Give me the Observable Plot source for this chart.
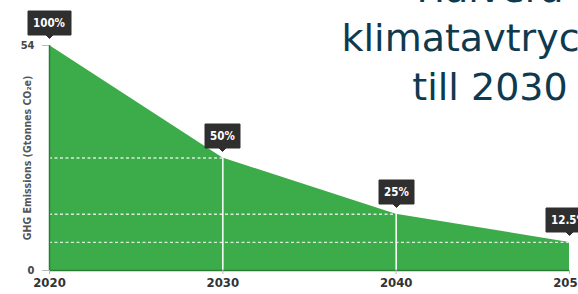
<!DOCTYPE html>
<html><head><meta charset="utf-8">
<script src="https://cdn.jsdelivr.net/npm/d3@7"></script>
<script src="https://cdn.jsdelivr.net/npm/@observablehq/plot@0.6"></script>
<style>
html,body{margin:0;padding:0;overflow:hidden;background:#fff;}
#wrap{position:relative;width:578px;height:294px;overflow:hidden;}
#title{position:absolute;left:290px;width:400px;top:-35px;text-align:center;font-family:"DejaVu Sans",sans-serif;font-size:38px;line-height:49px;color:#0e3a4f;}
g[aria-label="tip"] text, g[aria-label="tip"] tspan{fill:#fff;}
</style></head><body>
<div id="wrap"><div id="chart"></div><div id="title">Halvera<br>klimatavtrycket<br>till 2030</div></div>
<script>
const years = [2020, 2030, 2040, 2050];
const emissions = [54, 27, 13.5, 6.75];
const shares = ["100%", "50%", "25%", "12.5%"];
const yTicks = [0, 54];
const xTicks = [2020, 2030, 2040, 2050];
const yLabel = "GHG Emissions (Gtonnes CO₂e)";

const data = years.map((year, i) => ({year, value: emissions[i], share: shares[i]}));
const inner = data.slice(1);
const font = '"DejaVu Sans Condensed", "Liberation Sans Narrow", sans-serif';

const chart = Plot.plot({
  width: 578, height: 294,
  marginLeft: 49, marginRight: 9, marginTop: 45, marginBottom: 24,
  style: {fontFamily: font, fontWeight: "bold", background: "transparent", overflow: "visible"},
  x: {domain: [2020, 2050]},
  y: {domain: [0, 54]},
  marks: [
    Plot.areaY(data, {x: "year", y: "value", fill: "#3cab4a"}),
    Plot.ruleY(inner, {y: "value", x1: 2020, x2: "year", stroke: "#fff", strokeWidth: 1.3, strokeDasharray: "3,2.5", strokeOpacity: 0.8}),
    Plot.ruleX(inner.slice(0, 2), {x: "year", y1: 0, y2: "value", stroke: "#fff", strokeWidth: 1.5}),
    Plot.ruleX([2020], {y1: 0, y2: 54, stroke: "#2b7d35", strokeWidth: 1.5}),
    Plot.ruleY([0], {x1: 2020, x2: 2050, stroke: "#2b7d35", strokeWidth: 1.5}),
    Plot.axisX({ticks: xTicks, tickFormat: d => String(d), tickSize: 4, tickPadding: 3, fontSize: 13, fill: "#333", stroke: "#bbb", label: null}),
    Plot.axisY({ticks: yTicks, tickSize: 7, tickPadding: 8, fontSize: 11, fill: "#444", stroke: "#bbb", label: null}),
    Plot.text([yLabel], {frameAnchor: "left", textAnchor: "middle", dx: -22, rotate: -90, fontSize: 10.5, fill: "#555", fontWeight: "bold"}),
    Plot.tip(data, {x: "year", y: "value", title: "share", anchor: "bottom", dy: -7,
      fill: "#2f2f2f", stroke: "#2f2f2f", pathFilter: "none", textPadding: 5, pointerSize: 7,
      fontSize: 11.5, fontFamily: font, fontWeight: "bold"})
  ]
});
document.getElementById("chart").appendChild(chart);
</script>
</body></html>
